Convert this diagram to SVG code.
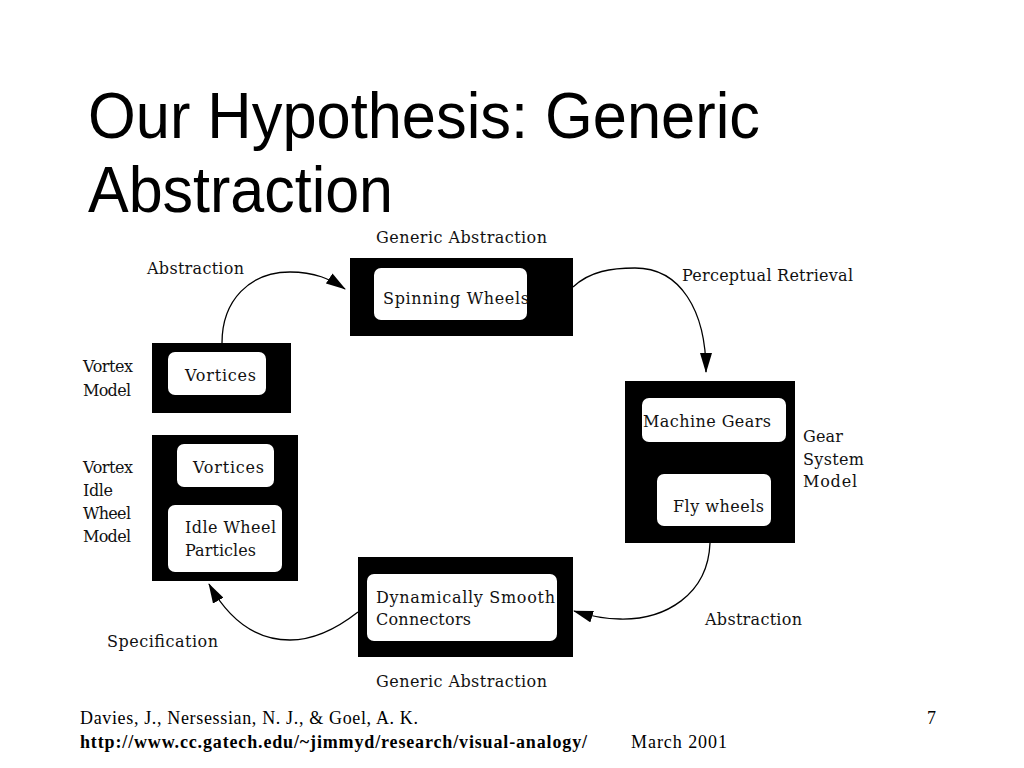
<svg xmlns="http://www.w3.org/2000/svg" width="1024" height="768" viewBox="0 0 1024 768">
<defs>
<marker id="ah" markerWidth="20" markerHeight="12" refX="19" refY="6" orient="auto" markerUnits="userSpaceOnUse">
<path d="M0,0 L20,6 L0,12 Z" fill="#000"/>
</marker>
<style>
.title{font-family:"Liberation Sans",Arial,sans-serif;font-size:64px;fill:#000}
.lbl{font-family:"DejaVu Serif","Liberation Serif",serif;font-size:16px;fill:#111}
.foot{font-family:"Liberation Serif","Times New Roman",serif;font-size:18px;fill:#000}
.outer{fill:#000}
.inner{fill:#fff}
.conn{fill:none;stroke:#000;stroke-width:1.3}
</style>
</defs>
<rect width="1024" height="768" fill="#fff"/>
<text class="title" x="88" y="138" textLength="672" lengthAdjust="spacingAndGlyphs">Our Hypothesis: Generic</text>
<text class="title" x="88" y="212" textLength="305" lengthAdjust="spacingAndGlyphs">Abstraction</text>

<g id="connectors">
<path class="conn" d="M222,343 C222,300 250,272 290,272 C315,272 330,279 345,289" marker-end="url(#ah)"/>
<path class="conn" d="M573,287 C590,271 612,268 635,268 C680,268 706,310 706,372" marker-end="url(#ah)"/>
<path class="conn" d="M710,543 C708,595 665,620 620,619 C605,619 590,616 574,611" marker-end="url(#ah)"/>
<path class="conn" d="M358,612 C335,630 312,640 290,640 C255,640 228,618 209,584" marker-end="url(#ah)"/>
</g>

<g id="lbl-abstraction-1"><text class="lbl" x="147" y="274" textLength="97">Abstraction</text></g>
<g id="lbl-perceptual"><text class="lbl" x="682" y="281" textLength="171">Perceptual Retrieval</text></g>
<g id="lbl-abstraction-2"><text class="lbl" x="705" y="625" textLength="97">Abstraction</text></g>
<g id="lbl-specification"><text class="lbl" x="107" y="647" textLength="111">Specification</text></g>

<g id="node-generic-top">
<text class="lbl" x="376" y="243" textLength="171">Generic Abstraction</text>
<rect class="outer" x="350" y="258" width="223" height="78"/>
<rect class="inner" x="374" y="268" width="153" height="52" rx="7"/>
<text class="lbl" x="383" y="304" textLength="146">Spinning Wheels</text>
</g>

<g id="node-vortex-model">
<text class="lbl" x="83" y="372" textLength="50">Vortex</text>
<text class="lbl" x="83" y="396" textLength="48">Model</text>
<rect class="outer" x="152" y="343" width="139" height="70"/>
<rect class="inner" x="168" y="352" width="98" height="43" rx="7"/>
<text class="lbl" x="185" y="381" textLength="71">Vortices</text>
</g>

<g id="node-gear-system">
<rect class="outer" x="625" y="381" width="170" height="162"/>
<rect class="inner" x="642" y="398" width="144" height="44" rx="7"/>
<text class="lbl" x="643" y="427" textLength="128">Machine Gears</text>
<rect class="inner" x="657" y="474" width="114" height="52" rx="7"/>
<text class="lbl" x="673" y="512" textLength="91">Fly wheels</text>
<text class="lbl" x="803" y="442" textLength="40">Gear</text>
<text class="lbl" x="803" y="465" textLength="61">System</text>
<text class="lbl" x="803" y="487" textLength="54">Model</text>
</g>

<g id="node-vortex-idle">
<text class="lbl" x="83" y="473" textLength="50">Vortex</text>
<text class="lbl" x="83" y="496" textLength="30">Idle</text>
<text class="lbl" x="83" y="519" textLength="48">Wheel</text>
<text class="lbl" x="83" y="542" textLength="48">Model</text>
<rect class="outer" x="152" y="435" width="146" height="146"/>
<rect class="inner" x="177" y="444" width="97" height="43" rx="7"/>
<text class="lbl" x="193" y="473" textLength="71">Vortices</text>
<rect class="inner" x="168" y="505" width="114" height="67" rx="7"/>
<text class="lbl" x="185" y="533" textLength="91">Idle Wheel</text>
<text class="lbl" x="185" y="556" textLength="71">Particles</text>
</g>

<g id="node-generic-bottom">
<rect class="outer" x="358" y="557" width="215" height="100"/>
<rect class="inner" x="367" y="574" width="190" height="67" rx="7"/>
<text class="lbl" x="376" y="603" textLength="179">Dynamically Smooth</text>
<text class="lbl" x="376" y="625" textLength="95">Connectors</text>
<text class="lbl" x="376" y="687" textLength="171">Generic Abstraction</text>
</g>

<g id="footer">
<text class="foot" x="80" y="724" textLength="338">Davies, J., Nersessian, N. J., &amp; Goel, A. K.</text>
<text class="foot" x="80" y="748" font-weight="bold" textLength="507">http://www.cc.gatech.edu/~jimmyd/research/visual-analogy/</text>
<text class="foot" x="631" y="748" textLength="96">March 2001</text>
<text class="foot" x="927" y="724">7</text>
</g>
</svg>
